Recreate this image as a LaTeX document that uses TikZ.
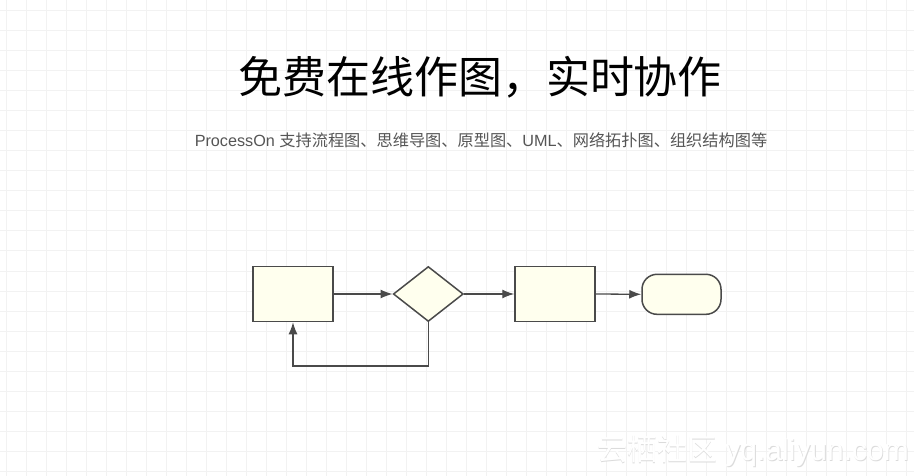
\documentclass[tikz,border=0pt]{standalone}
\usepackage{fontspec}
\setmainfont{Liberation Sans}
\newfontfamily\cjk{Noto Sans CJK SC}
\newfontfamily\lat{Liberation Sans}
\usetikzlibrary{shapes.geometric,arrows.meta}
\definecolor{gridc}{HTML}{F2F2F2}
\definecolor{boxfill}{HTML}{FFFFEE}
\definecolor{boxline}{HTML}{4A4A4A}
\definecolor{subc}{HTML}{555555}
\tikzset{
  gridline/.style={draw=gridc,line width=1pt},
  flow/.style={draw=boxline,fill=boxfill,line width=1.5pt,inner sep=0pt},
  procbox/.style={flow,rectangle,minimum width=80pt,minimum height=55pt},
  decbox/.style={flow,diamond,minimum width=70pt,minimum height=55pt},
  termbox/.style={flow,rectangle,rounded corners=15pt,minimum width=79pt,minimum height=40pt},
  conn/.style={draw=boxline,line width=1.3pt,-{Latex[length=12pt,width=9pt]}}
}
\begin{document}
\begin{tikzpicture}[x=1pt,y=-1pt]
\useasboundingbox (0,0) rectangle (914,476);
\fill[white] (0,0) rectangle (914,476);
\foreach \x in {6,26,...,906} \draw[gridline] (\x,0) -- (\x,476);
\foreach \y in {11,31,...,471} \draw[gridline] (0,\y) -- (914,\y);
\node[anchor=center,font=\cjk\fontsize{44}{48}\selectfont] (title) at (480,77) {免费在线作图，实时协作};
\node[anchor=center,text=subc,font=\fontsize{16.2}{19}\selectfont] (sub) at (481,140) {{\lat ProcessOn} {\cjk 支持流程图、思维导图、原型图、}{\lat UML}{\cjk 、网络拓扑图、组织结构图等}};
\node[procbox] (r1) at (293,294) {};
\node[decbox] (d1) at (428.3,294) {};
\node[procbox] (r2) at (555,294) {};
\node[termbox] (t1) at (681.5,294.3) {};
\draw[conn] (r1.east) -- (d1.west);
\draw[conn] (d1.east) -- (r2.west);
\draw[conn] (r2.east) -- (t1.west);
\coordinate (lp) at (428.3,366);
\draw[conn] (d1.south) -- (lp) -| (r1.south);
\node[anchor=center,text=black!14,font=\fontsize{30}{32}\selectfont] (wms) at (753.8,452) {{\cjk 云栖社区} yq.aliyun.com};
\node[anchor=center,text=white,font=\fontsize{30}{32}\selectfont] (wm) at (753,451) {{\cjk 云栖社区} yq.aliyun.com};
\end{tikzpicture}
\end{document}
